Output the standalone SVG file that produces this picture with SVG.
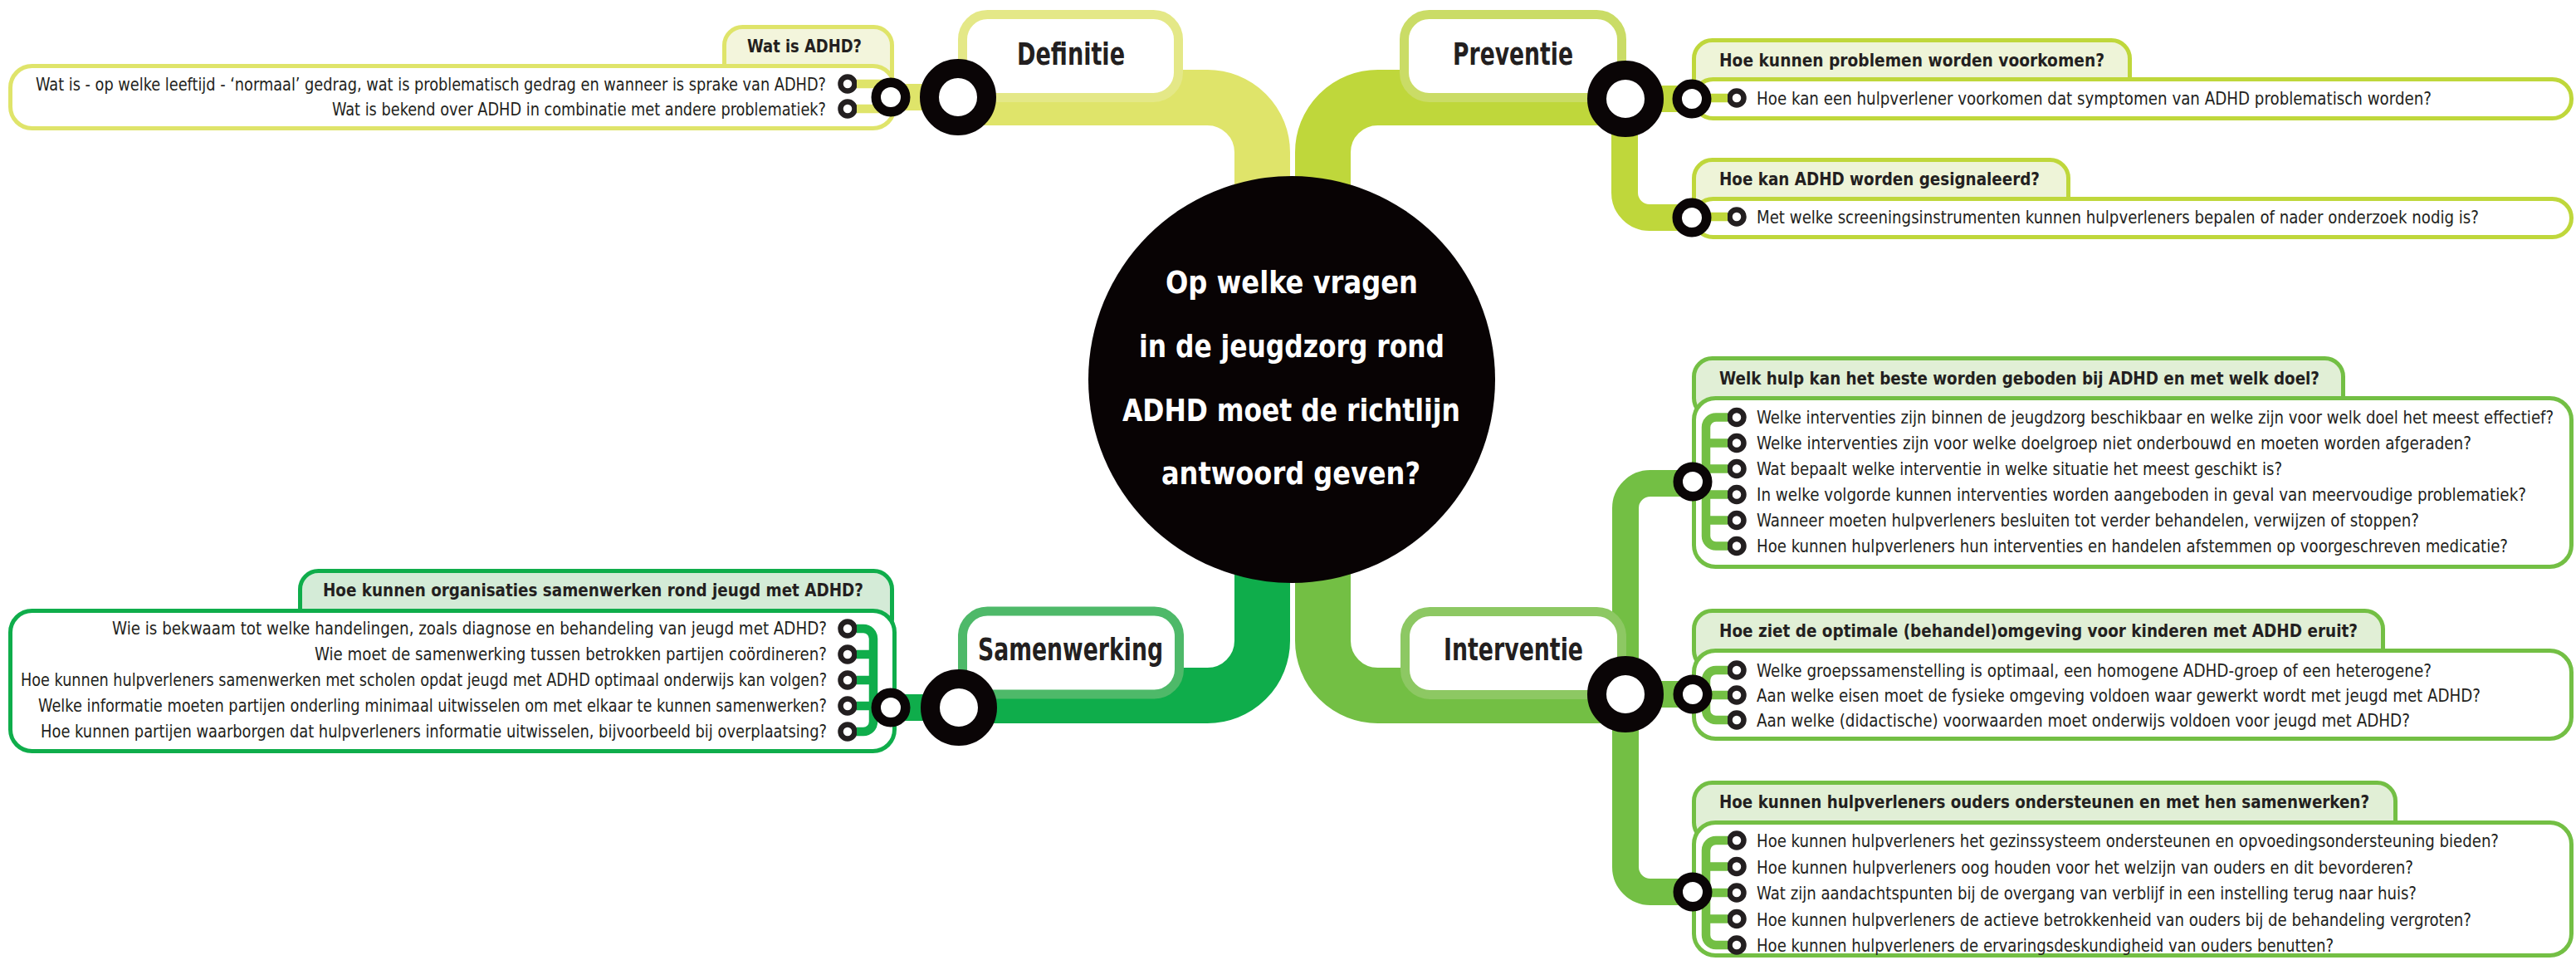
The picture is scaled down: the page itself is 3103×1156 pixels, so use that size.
<svg xmlns="http://www.w3.org/2000/svg" width="3103" height="1156" viewBox="0 0 3103 1156">
<style>
text{font-family:"Liberation Sans Narrow","DejaVu Sans Condensed","Liberation Sans",Arial,sans-serif;fill:#231f20}
.t{font-size:22px}
.h{font-size:22px;font-weight:bold}
.lab{font-size:38px;font-weight:bold}
.c{font-size:38px;font-weight:bold;fill:#ffffff}
.box{fill:#ffffff;stroke-width:5}
.tab{stroke-width:5}
.cat{fill:#ffffff;stroke-width:11}
.bul{fill:#ffffff;stroke:#231f20;stroke-width:6.5}
.sr{fill:#ffffff;stroke:#0a0506;stroke-width:11.5}
.br{fill:#ffffff;stroke:#0a0506;stroke-width:23}
.tr{fill:none;stroke-width:67}
.tr2{fill:none;stroke-width:32}
.bk{fill:none;stroke-width:10.5}
.yel{stroke:#dfe46a}
.lim{stroke:#bfd73b}
.dg{stroke:#0fad4b}
.lg{stroke:#73bf44}
</style>

<!-- detail nodes (backgrounds + text) -->
<g id="q-definitie">
<rect class="tab yel" x="872.5" y="32.5" width="202" height="80" rx="22" fill="#f3f5dc"/>
<rect class="box yel" x="12.5" y="79.5" width="1065" height="75" rx="26"/>
<text class="h" x="900" y="63" textLength="138" lengthAdjust="spacingAndGlyphs">Wat is ADHD?</text>
<text class="t" x="43" y="109" textLength="952" lengthAdjust="spacingAndGlyphs">Wat is - op welke leeftijd - ‘normaal’ gedrag, wat is problematisch gedrag en wanneer is sprake van ADHD?</text>
<text class="t" x="400" y="139" textLength="595" lengthAdjust="spacingAndGlyphs">Wat is bekend over ADHD in combinatie met andere problematiek?</text>
<circle class="bul" cx="1021" cy="101" r="8.5"/>
<circle class="bul" cx="1021" cy="131" r="8.5"/>
</g>

<g id="q-samenwerking">
<rect class="tab dg" x="361.5" y="687.5" width="713" height="80" rx="22" fill="#d4ebd7"/>
<rect class="box dg" x="12.5" y="735.5" width="1065" height="169" rx="26"/>
<text class="h" x="389" y="718" textLength="651" lengthAdjust="spacingAndGlyphs">Hoe kunnen organisaties samenwerken rond jeugd met ADHD?</text>
<text class="t" x="135" y="764" textLength="861" lengthAdjust="spacingAndGlyphs">Wie is bekwaam tot welke handelingen, zoals diagnose en behandeling van jeugd met ADHD?</text>
<text class="t" x="379" y="795" textLength="617" lengthAdjust="spacingAndGlyphs">Wie moet de samenwerking tussen betrokken partijen coördineren?</text>
<text class="t" x="25" y="826" textLength="971" lengthAdjust="spacingAndGlyphs">Hoe kunnen hulpverleners samenwerken met scholen opdat jeugd met ADHD optimaal onderwijs kan volgen?</text>
<text class="t" x="46" y="857" textLength="950" lengthAdjust="spacingAndGlyphs">Welke informatie moeten partijen onderling minimaal uitwisselen om met elkaar te kunnen samenwerken?</text>
<text class="t" x="49" y="888" textLength="947" lengthAdjust="spacingAndGlyphs">Hoe kunnen partijen waarborgen dat hulpverleners informatie uitwisselen, bijvoorbeeld bij overplaatsing?</text>
<circle class="bul" cx="1021" cy="757" r="8.5"/>
<circle class="bul" cx="1021" cy="788" r="8.5"/>
<circle class="bul" cx="1021" cy="819" r="8.5"/>
<circle class="bul" cx="1021" cy="850" r="8.5"/>
<circle class="bul" cx="1021" cy="881" r="8.5"/>
</g>

<g id="q-preventie-1">
<rect class="tab lim" x="2040.5" y="48.5" width="525" height="70" rx="22" fill="#eef4d8"/>
<rect class="box lim" x="2040.5" y="95.5" width="1057" height="47" rx="23"/>
<text class="h" x="2071" y="80" textLength="464" lengthAdjust="spacingAndGlyphs">Hoe kunnen problemen worden voorkomen?</text>
<text class="t" x="2116" y="126" textLength="813" lengthAdjust="spacingAndGlyphs">Hoe kan een hulpverlener voorkomen dat symptomen van ADHD problematisch worden?</text>
<circle class="bul" cx="2092" cy="118" r="8.5"/>
</g>

<g id="q-preventie-2">
<rect class="tab lim" x="2040.5" y="192.5" width="451" height="70" rx="22" fill="#eef4d8"/>
<rect class="box lim" x="2040.5" y="239.5" width="1057" height="46" rx="23"/>
<text class="h" x="2071" y="223" textLength="386" lengthAdjust="spacingAndGlyphs">Hoe kan ADHD worden gesignaleerd?</text>
<text class="t" x="2116" y="269" textLength="870" lengthAdjust="spacingAndGlyphs">Met welke screeningsinstrumenten kunnen hulpverleners bepalen of nader onderzoek nodig is?</text>
<circle class="bul" cx="2092" cy="261" r="8.5"/>
</g>

<g id="q-interventie-1">
<rect class="tab lg" x="2040.5" y="431.5" width="782" height="70" rx="22" fill="#e1efd6"/>
<rect class="box lg" x="2040.5" y="479.5" width="1057" height="203" rx="26"/>
<text class="h" x="2071" y="463" textLength="723" lengthAdjust="spacingAndGlyphs">Welk hulp kan het beste worden geboden bij ADHD en met welk doel?</text>
<text class="t" x="2116" y="510" textLength="960" lengthAdjust="spacingAndGlyphs">Welke interventies zijn binnen de jeugdzorg beschikbaar en welke zijn voor welk doel het meest effectief?</text>
<text class="t" x="2116" y="541" textLength="861" lengthAdjust="spacingAndGlyphs">Welke interventies zijn voor welke doelgroep niet onderbouwd en moeten worden afgeraden?</text>
<text class="t" x="2116" y="572" textLength="633" lengthAdjust="spacingAndGlyphs">Wat bepaalt welke interventie in welke situatie het meest geschikt is?</text>
<text class="t" x="2116" y="603" textLength="927" lengthAdjust="spacingAndGlyphs">In welke volgorde kunnen interventies worden aangeboden in geval van meervoudige problematiek?</text>
<text class="t" x="2116" y="634" textLength="798" lengthAdjust="spacingAndGlyphs">Wanneer moeten hulpverleners besluiten tot verder behandelen, verwijzen of stoppen?</text>
<text class="t" x="2116" y="665" textLength="905" lengthAdjust="spacingAndGlyphs">Hoe kunnen hulpverleners hun interventies en handelen afstemmen op voorgeschreven medicatie?</text>
<circle class="bul" cx="2092" cy="502.5" r="8.5"/>
<circle class="bul" cx="2092" cy="533.5" r="8.5"/>
<circle class="bul" cx="2092" cy="564.5" r="8.5"/>
<circle class="bul" cx="2092" cy="595.5" r="8.5"/>
<circle class="bul" cx="2092" cy="626.5" r="8.5"/>
<circle class="bul" cx="2092" cy="657.5" r="8.5"/>
</g>

<g id="q-interventie-2">
<rect class="tab lg" x="2040.5" y="735.5" width="830" height="70" rx="22" fill="#e1efd6"/>
<rect class="box lg" x="2040.5" y="783.5" width="1057" height="106" rx="26"/>
<text class="h" x="2071" y="767" textLength="769" lengthAdjust="spacingAndGlyphs">Hoe ziet de optimale (behandel)omgeving voor kinderen met ADHD eruit?</text>
<text class="t" x="2116" y="815" textLength="813" lengthAdjust="spacingAndGlyphs">Welke groepssamenstelling is optimaal, een homogene ADHD-groep of een heterogene?</text>
<text class="t" x="2116" y="845" textLength="872" lengthAdjust="spacingAndGlyphs">Aan welke eisen moet de fysieke omgeving voldoen waar gewerkt wordt met jeugd met ADHD?</text>
<text class="t" x="2116" y="875" textLength="787" lengthAdjust="spacingAndGlyphs">Aan welke (didactische) voorwaarden moet onderwijs voldoen voor jeugd met ADHD?</text>
<circle class="bul" cx="2092" cy="807" r="8.5"/>
<circle class="bul" cx="2092" cy="837" r="8.5"/>
<circle class="bul" cx="2092" cy="867" r="8.5"/>
</g>

<g id="q-interventie-3">
<rect class="tab lg" x="2040.5" y="942.5" width="845" height="70" rx="22" fill="#e1efd6"/>
<rect class="box lg" x="2040.5" y="990.5" width="1057" height="160" rx="26"/>
<text class="h" x="2071" y="973" textLength="783" lengthAdjust="spacingAndGlyphs">Hoe kunnen hulpverleners ouders ondersteunen en met hen samenwerken?</text>
<text class="t" x="2116" y="1020" textLength="894" lengthAdjust="spacingAndGlyphs">Hoe kunnen hulpverleners het gezinssysteem ondersteunen en opvoedingsondersteuning bieden?</text>
<text class="t" x="2116" y="1051.5" textLength="791" lengthAdjust="spacingAndGlyphs">Hoe kunnen hulpverleners oog houden voor het welzijn van ouders en dit bevorderen?</text>
<text class="t" x="2116" y="1083" textLength="795" lengthAdjust="spacingAndGlyphs">Wat zijn aandachtspunten bij de overgang van verblijf in een instelling terug naar huis?</text>
<text class="t" x="2116" y="1114.5" textLength="861" lengthAdjust="spacingAndGlyphs">Hoe kunnen hulpverleners de actieve betrokkenheid van ouders bij de behandeling vergroten?</text>
<text class="t" x="2116" y="1146" textLength="695" lengthAdjust="spacingAndGlyphs">Hoe kunnen hulpverleners de ervaringsdeskundigheid van ouders benutten?</text>
<circle class="bul" cx="2092" cy="1012" r="8.5"/>
<circle class="bul" cx="2092" cy="1043.5" r="8.5"/>
<circle class="bul" cx="2092" cy="1075" r="8.5"/>
<circle class="bul" cx="2092" cy="1106.5" r="8.5"/>
<circle class="bul" cx="2092" cy="1138" r="8.5"/>
</g>

<!-- connectors -->
<g id="connectors">
<path class="tr yel" d="M1154,117.5 H1454.5 A66,66 0 0 1 1520.5,183.5 V420"/>
<path class="tr lim" d="M1958,117.5 H1659.5 A66,66 0 0 0 1593.5,183.5 V420"/>
<path class="tr dg" d="M1520.5,500 V771.5 A66,66 0 0 1 1454.5,837.5 H1155"/>
<path class="tr lg" d="M1593.5,500 V771.5 A66,66 0 0 0 1659.5,837.5 H1958"/>

<path class="tr2 yel" d="M1073,117 H1154"/>
<path class="tr2 dg" d="M1073,852 H1155"/>
<path class="tr2 lim" d="M2038,119 H1957 V232 A30,30 0 0 0 1987,262 H2038"/>
<path class="tr2 lg" d="M2039,582 H1988 A30,30 0 0 0 1958,612 V1044 A30,30 0 0 0 1988,1074 H2039"/>
<path class="tr2 lg" d="M1958,836 H2039"/>

<path class="bk yel" d="M1032,101 H1073 M1032,131 H1073"/>
<path class="bk dg" d="M1032,757 H1040 A12,12 0 0 1 1052,769 V869 A12,12 0 0 1 1040,881 H1032 M1032,788 H1052 M1032,819 H1052 M1032,850 H1052 M1052,852 H1073"/>
<path class="bk lim" d="M2081,118 H2038 M2081,261 H2038"/>
<path class="bk lg" d="M2081,502.5 H2067 A12,12 0 0 0 2055,514.5 V645.5 A12,12 0 0 0 2067,657.5 H2081 M2081,533.5 H2055 M2081,564.5 H2055 M2081,595.5 H2055 M2081,626.5 H2055 M2055,580 H2039"/>
<path class="bk lg" d="M2081,807 H2067 A12,12 0 0 0 2055,819 V855 A12,12 0 0 0 2067,867 H2081 M2081,837 H2039"/>
<path class="bk lg" d="M2081,1012 H2067 A12,12 0 0 0 2055,1024 V1126 A12,12 0 0 0 2067,1138 H2081 M2081,1043.5 H2055 M2081,1075 H2039 M2081,1106.5 H2055"/>
</g>

<!-- category nodes -->
<g id="definitie">
<rect class="cat" x="1159.5" y="17.5" width="260" height="100" rx="30" stroke="#e4e887"/>
<text class="lab" x="1225" y="78" textLength="130" lengthAdjust="spacingAndGlyphs">Definitie</text>
</g>
<g id="preventie">
<rect class="cat" x="1691.5" y="17.5" width="262" height="100" rx="30" stroke="#cadc66"/>
<text class="lab" x="1750" y="78" textLength="145" lengthAdjust="spacingAndGlyphs">Preventie</text>
</g>
<g id="samenwerking">
<rect class="cat" x="1159.5" y="736" width="261" height="100" rx="30" stroke="#4eb969"/>
<text class="lab" x="1178" y="795" textLength="223" lengthAdjust="spacingAndGlyphs">Samenwerking</text>
</g>
<g id="interventie">
<rect class="cat" x="1692.5" y="736.5" width="261" height="100" rx="30" stroke="#8dc863"/>
<text class="lab" x="1739" y="795" textLength="168" lengthAdjust="spacingAndGlyphs">Interventie</text>
</g>

<g id="center">
<circle cx="1556" cy="457" r="245" fill="#080304"/>
<text class="c" x="1404" y="353" textLength="304" lengthAdjust="spacingAndGlyphs">Op welke vragen</text>
<text class="c" x="1372" y="430" textLength="368" lengthAdjust="spacingAndGlyphs">in de jeugdzorg rond</text>
<text class="c" x="1352" y="507" textLength="407" lengthAdjust="spacingAndGlyphs">ADHD moet de richtlijn</text>
<text class="c" x="1399" y="583" textLength="312" lengthAdjust="spacingAndGlyphs">antwoord geven?</text>
</g>

<!-- junction rings -->
<g id="junctions">
<circle class="br" cx="1154" cy="117" r="34.5"/>
<circle class="br" cx="1958" cy="119" r="34.5"/>
<circle class="br" cx="1155" cy="852" r="34.5"/>
<circle class="br" cx="1958" cy="836" r="34.5" stroke="#231f20"/>
<circle class="sr" cx="1073" cy="117" r="17.75"/>
<circle class="sr" cx="1073" cy="852" r="17.75"/>
<circle class="sr" cx="2038" cy="119" r="17.75"/>
<circle class="sr" cx="2038" cy="262" r="17.75"/>
<circle class="sr" cx="2039" cy="580" r="17.75"/>
<circle class="sr" cx="2039" cy="836" r="17.75"/>
<circle class="sr" cx="2039" cy="1074" r="17.75"/>
</g>
</svg>
